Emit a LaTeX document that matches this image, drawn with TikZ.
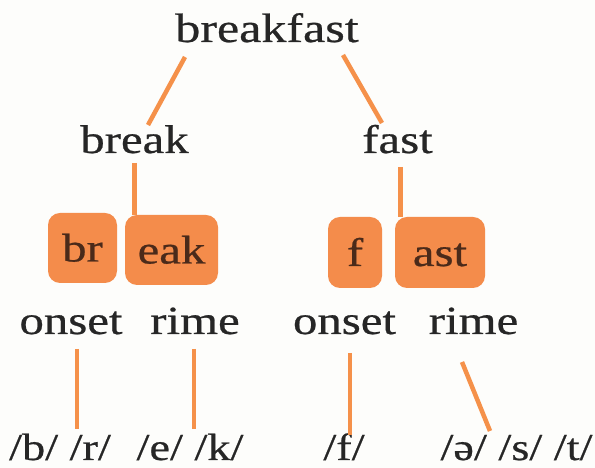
\documentclass[tikz,border=0pt]{standalone}
\usepackage{fontspec}
\setmainfont{Liberation Serif}[FakeStretch=1.22,FakeBold=0.6]
\definecolor{linec}{HTML}{F5914A}
\definecolor{boxc}{HTML}{F48C4B}
\definecolor{boxtext}{HTML}{4A2A1A}
\definecolor{textc}{HTML}{262626}
\definecolor{bgc}{HTML}{FDFDFB}
\begin{document}
\begin{tikzpicture}[x=1pt,y=1pt,
  txt/.style={inner sep=0pt, anchor=base, text=textc, font=\fontsize{40}{41}\selectfont},
  box/.style={fill=boxc, rounded corners=12pt, inner sep=0pt, text=boxtext,
    font=\fontsize{40}{41}\selectfont, text height=27pt, text depth=0pt},
  link/.style={draw=linec, line width=4.5pt}]
\fill[bgc] (0,0) rectangle (595,468);
\useasboundingbox (0,0) rectangle (595,468);
% words
\node[txt, font=\fontsize{41}{42}\selectfont] (bf) at (267,426) {breakfast};
\node[txt] (brk) at (134.5,315) {break};
\node[txt] (fst) at (397.5,315) {fast};
% boxes
\node[box, minimum width=69pt, minimum height=70pt] (br) at (82.5,220) {br};
\node[box, minimum width=93pt, minimum height=70pt] (eak) at (171.5,218) {eak};
\node[box, minimum width=54pt, minimum height=71pt] (f) at (355,215.5) {f};
\node[box, minimum width=90pt, minimum height=71pt] (ast) at (440,215.5) {ast};
% onset / rime
\node[txt] (onL) at (71,134) {onset};
\node[txt] (riL) at (195,134) {rime};
\node[txt] (onR) at (344.5,134) {onset};
\node[txt] (riR) at (473.5,134) {rime};
% phonemes
\node[txt, font=\fontsize{38}{39}\selectfont] (p1) at (60,8) {/b/ /r/};
\node[txt, font=\fontsize{38}{39}\selectfont] (p2) at (190,8) {/e/ /k/};
\node[txt, font=\fontsize{38}{39}\selectfont] (p3) at (344,8) {/f/};
\node[txt, font=\fontsize{38}{39}\selectfont] (p4) at (516.5,8) {/ə/ /s/ /t/};
% connectors
\draw[link] ([xshift=-82pt,yshift=-15pt]bf.base) -- ([xshift=13.5pt,yshift=28pt]brk.base);
\draw[link] ([xshift=76pt,yshift=-13pt]bf.base) -- ([xshift=-15.5pt,yshift=30pt]fst.base);
\draw[link] ([yshift=-10pt]brk.base) -- (brk.base |- eak.north);
\draw[link] ([xshift=3pt,yshift=-14pt]fst.base) -- ([xshift=3pt]fst.base |- ast.north);
\draw[link] ([xshift=6pt,yshift=-15pt]onL.base) -- ([xshift=6pt,yshift=31pt]onL.base |- p1.base);
\draw[link] ([xshift=-1pt,yshift=-15pt]riL.base) -- ([xshift=-1pt,yshift=31pt]riL.base |- p2.base);
\draw[link] ([xshift=5.5pt,yshift=-19pt]onR.base) -- ([xshift=5.5pt,yshift=25pt]onR.base |- p3.base);
\draw[link] ([xshift=-11.5pt,yshift=-28pt]riR.base) -- ([xshift=-26.5pt,yshift=29pt]p4.base);
\end{tikzpicture}
\end{document}
